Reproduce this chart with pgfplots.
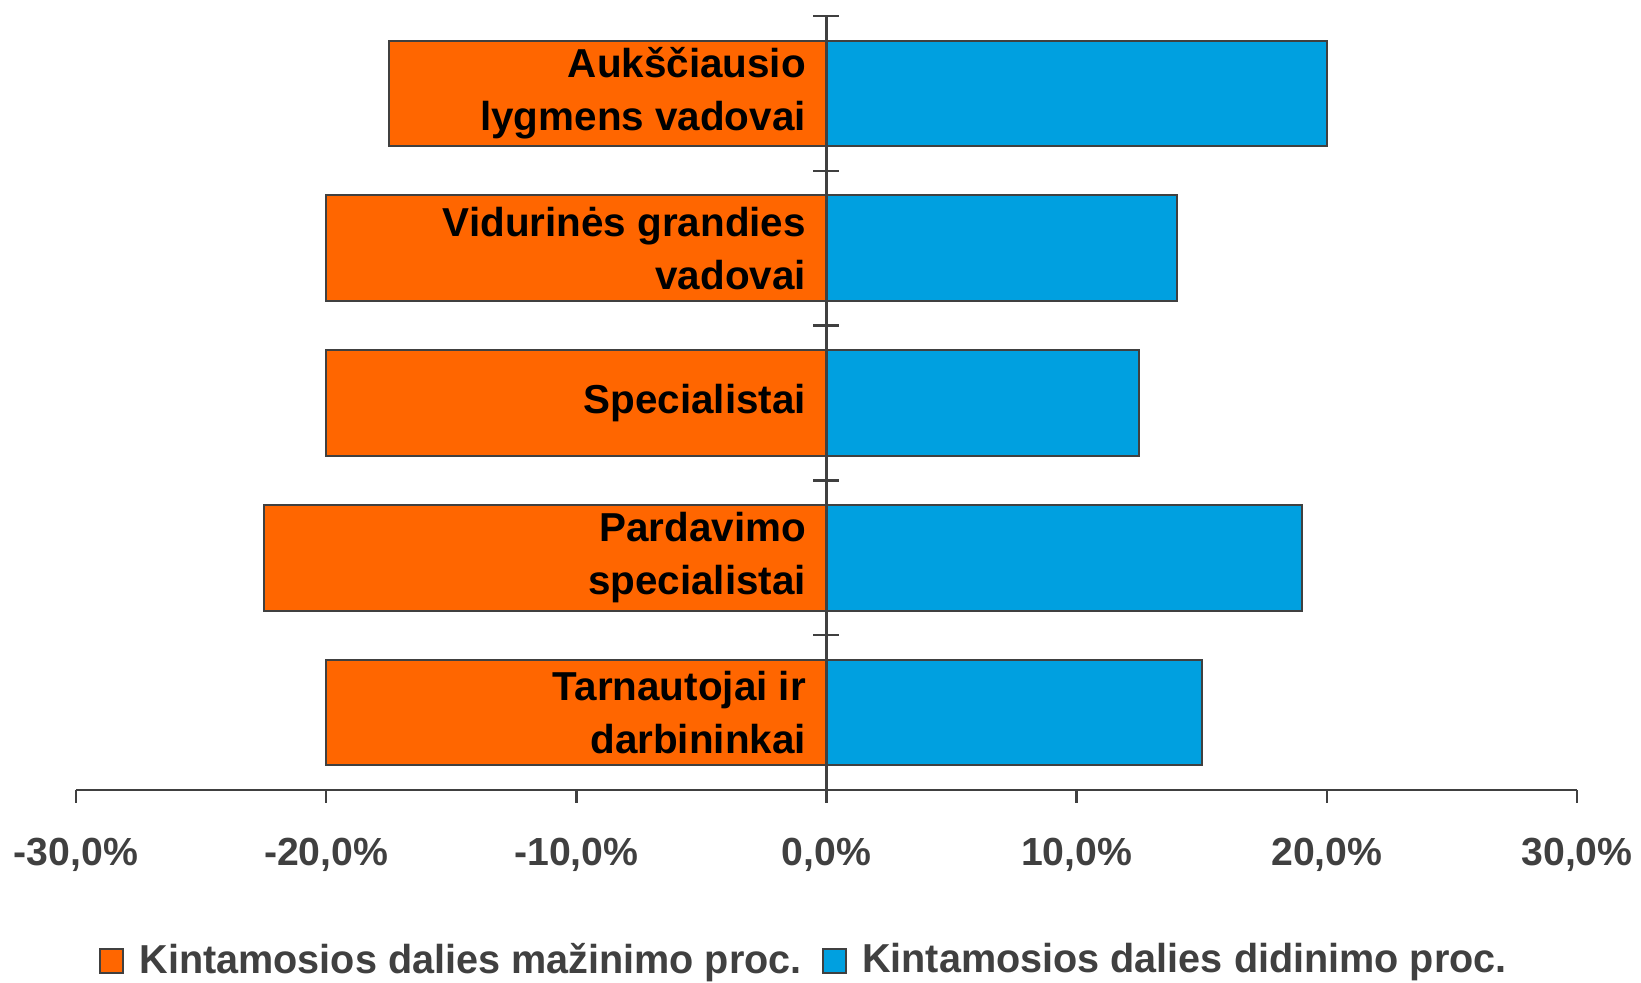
\documentclass[border=0pt]{standalone}
\usepackage{fontspec}
\setmainfont{Liberation Sans}
\newfontfamily\legendfont[FakeStretch=0.98]{Liberation Sans}
\usepackage{pgfplots}
\pgfplotsset{compat=1.18}
\definecolor{barorange}{HTML}{FF6600}
\definecolor{barblue}{HTML}{00A0E0}
\definecolor{axisgray}{HTML}{404040}

\begin{document}
\begin{tikzpicture}
\useasboundingbox (-19pt,-48.25pt) rectangle (391.25pt,197.5pt);
\begin{axis}[
    at={(0pt,0pt)}, anchor=south west,
    width=375.25pt, height=193.5pt, scale only axis,
    xmin=-30, xmax=30, ymin=-0.5, ymax=4.5,
    xbar, bar width=0.683, bar shift=0pt,
    axis on top,
    axis x line=bottom, axis y line=center,
    axis line style={-, draw=axisgray, line width=0.6pt},
    tick style={draw=axisgray, line width=0.6pt},
    xtick={-30,-20,...,30},
    xticklabels={{-30,0\%},{-20,0\%},{-10,0\%},{0,0\%},{10,0\%},{20,0\%},{30,0\%}},
    xtick align=outside,
    xticklabel style={font=\bfseries\fontsize{9.8}{11}\selectfont, text=axisgray, yshift=-5.2pt},
    ytick={0,...,4},
    yticklabels={{Tarnautojai ir\\darbininkai},{Pardavimo\\specialistai},{Specialistai},{Vidurinės grandies\\vadovai},{Aukščiausio\\lygmens vadovai}},
    yticklabel style={align=right, font=\bfseries\fontsize{10.1}{13.3}\selectfont, text=black, xshift=0pt},
    minor ytick={-0.5,0.5,...,4.5},
    ytick align=center,
    major tick length=3.25pt,
    minor tick length=6.5pt,
    every major y tick/.append style={draw=none},
    legend style={at={(0.487,-0.221)}, anchor=center, draw=none, fill=none,
        legend columns=2, font=\legendfont\bfseries\fontsize{10.1}{12}\selectfont,
        text=axisgray, /tikz/every even column/.append style={column sep=3pt},
        /tikz/every odd column/.append style={column sep=1.8pt}},
    legend image code/.code={\draw[#1, line width=0.5pt] (0pt,-3pt) rectangle (5.8pt,3pt);},
]
% mazinimo (orange), didinimo (blue); y=4 is the top row
\addplot[fill=barorange, draw=axisgray, line width=0.5pt]
    coordinates {(-20,0) (-22.5,1) (-20,2) (-20,3) (-17.5,4)};
\addplot[fill=barblue, draw=axisgray, line width=0.5pt]
    coordinates {(15,0) (19,1) (12.5,2) (14,3) (20,4)};
\legend{Kintamosios dalies mažinimo proc., Kintamosios dalies didinimo proc.}
\end{axis}
\end{tikzpicture}
\end{document}
